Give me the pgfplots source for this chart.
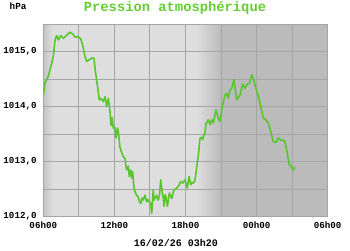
\documentclass[border=0pt]{standalone}
\usepackage{fontspec}
\setmonofont{Liberation Mono}
\usepackage{pgfplots}
\pgfplotsset{compat=1.18}
\definecolor{linegreen}{RGB}{88,198,44}
\definecolor{titlegreen}{RGB}{100,205,50}
\definecolor{lightbg}{RGB}{222,222,222}
\definecolor{darkbg}{RGB}{187,187,187}
\definecolor{edgegray}{RGB}{196,196,196}
\definecolor{gridgray}{RGB}{165,165,165}
\begin{document}
\begin{tikzpicture}
\begin{axis}[
  name=main,
  at={(0pt,0pt)}, anchor=south west,
  scale only axis, width=284.4pt, height=192.7pt,
  xmin=0, xmax=24, ymin=1012, ymax=1015.5,
  xtick={0,6,12,18,24},
  xticklabels={06h00,12h00,18h00,00h00,06h00},
  minor xtick={3,9,15,21},
  ytick={1012,1013,1014,1015},
  yticklabels={{1012,0},{1013,0},{1014,0},{1015,0}},
  minor ytick={1012.5,1013.5,1014.5},
  grid=both,
  major grid style={color=gridgray, line width=1pt},
  minor grid style={color=gridgray, line width=1pt},
  major tick length=0pt, minor tick length=0pt,
  axis line style={color=gridgray, line width=1pt},
  tick label style={font=\fontsize{9.2}{10}\ttfamily\bfseries, text=black},
  xticklabel style={anchor=center, inner sep=0pt, yshift=-8.3pt},
  yticklabel style={anchor=east, inner sep=0pt, xshift=-6.5pt},
  set layers,
  clip=true,
]
\begin{pgfonlayer}{axis background}
\fill[lightbg] (axis cs:0,1012) rectangle (axis cs:13,1015.5);
\shade[left color=edgegray, right color=lightbg] (axis cs:0,1012) rectangle (axis cs:0.8,1015.5);
\shade[left color=lightbg, right color=darkbg] (axis cs:12.9,1012) rectangle (axis cs:15,1015.5);
\fill[darkbg] (axis cs:15,1012) rectangle (axis cs:24,1015.5);
\end{pgfonlayer}
\addplot[linegreen, line width=1.6pt, line join=round, mark=none] coordinates {
(0.00,1014.19) (0.14,1014.43) (0.42,1014.55) (0.71,1014.79) (0.84,1014.91)
(0.99,1015.21) (1.13,1015.29) (1.27,1015.21) (1.47,1015.29) (1.69,1015.24)
(1.97,1015.30) (2.25,1015.35) (2.48,1015.32) (2.68,1015.26) (2.95,1015.27)
(3.16,1015.23) (3.32,1015.12) (3.52,1014.91) (3.66,1014.82) (3.88,1014.85)
(4.08,1014.88) (4.28,1014.88) (4.36,1014.70) (4.56,1014.39) (4.73,1014.12)
(4.87,1014.15) (5.06,1014.09) (5.21,1014.18) (5.35,1014.00) (5.49,1014.15)
(5.63,1013.90) (5.72,1013.66) (5.80,1013.80) (5.91,1013.61) (6.03,1013.62)
(6.14,1013.43) (6.25,1013.61) (6.33,1013.55) (6.47,1013.26) (6.62,1013.16)
(6.75,1013.09) (6.89,1013.06) (6.98,1012.91) (7.04,1012.85) (7.17,1012.92)
(7.26,1012.73) (7.38,1012.85) (7.47,1012.70) (7.54,1012.82) (7.64,1012.55)
(7.74,1012.45) (7.90,1012.38) (8.02,1012.36) (8.10,1012.28) (8.22,1012.24)
(8.33,1012.34) (8.44,1012.30) (8.58,1012.39) (8.73,1012.27) (8.85,1012.31)
(8.95,1012.27) (9.05,1012.25) (9.15,1012.06) (9.28,1012.49) (9.35,1012.30)
(9.43,1012.34) (9.57,1012.39) (9.68,1012.30) (9.79,1012.36) (9.91,1012.67)
(10.04,1012.43) (10.12,1012.35) (10.19,1012.19) (10.28,1012.40) (10.35,1012.36)
(10.47,1012.19) (10.64,1012.43) (10.75,1012.38) (10.84,1012.33) (11.03,1012.49)
(11.15,1012.50) (11.26,1012.52) (11.48,1012.58) (11.59,1012.64) (11.76,1012.61)
(11.96,1012.67) (12.15,1012.52) (12.30,1012.73) (12.44,1012.58) (12.55,1012.62)
(12.66,1012.61) (12.78,1012.65) (12.89,1012.80) (13.00,1013.00) (13.08,1013.10)
(13.22,1013.42) (13.35,1013.44) (13.45,1013.40) (13.56,1013.49) (13.65,1013.52)
(13.73,1013.70) (13.84,1013.72) (13.92,1013.76) (14.01,1013.72) (14.07,1013.67)
(14.21,1013.76) (14.35,1013.70) (14.57,1013.94) (14.77,1013.79) (14.91,1013.73)
(15.11,1014.00) (15.33,1014.21) (15.48,1014.24) (15.61,1014.15) (15.76,1014.30)
(15.90,1014.33) (16.09,1014.49) (16.32,1014.12) (16.60,1014.21) (16.83,1014.41)
(17.02,1014.33) (17.22,1014.41) (17.38,1014.42) (17.59,1014.58) (17.78,1014.47)
(17.95,1014.33) (18.15,1014.18) (18.35,1014.00) (18.57,1013.79) (18.79,1013.76)
(18.99,1013.70) (19.19,1013.55) (19.41,1013.36) (19.64,1013.35) (19.83,1013.43)
(20.03,1013.39) (20.25,1013.39) (20.40,1013.36) (20.59,1013.15) (20.76,1012.94)
(20.96,1012.90) (21.10,1012.85) (21.24,1012.90)
};
\end{axis}
\node[font=\fontsize{9.3}{10}\ttfamily\bfseries, anchor=west, inner sep=0pt] at (-33.8pt,210.7pt) {hPa};
\node[font=\fontsize{13.8}{14}\ttfamily\bfseries, text=titlegreen, inner sep=0pt] at (131.7pt,208.7pt) {Pression atmosphérique};
\node[font=\fontsize{10}{11}\ttfamily\bfseries, inner sep=0pt] at (132.7pt,-26.3pt) {16/02/26 03h20};
\pgfresetboundingbox
\path[use as bounding box] (-43.3pt,-33.3pt) rectangle (306.7pt,216.7pt);
\end{tikzpicture}
\end{document}
